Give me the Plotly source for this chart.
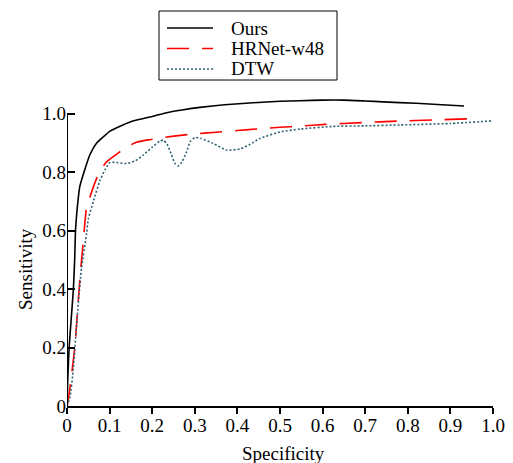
import plotly.graph_objects as go

# ROC-style curves: specificity (x) vs sensitivity (y)
ours_x = [0, 0.002, 0.005, 0.010, 0.015, 0.018, 0.020, 0.023, 0.030, 0.040, 0.054, 0.070,
          0.085, 0.101, 0.13, 0.156, 0.20, 0.234, 0.27, 0.312, 0.37, 0.437, 0.50, 0.547,
          0.60, 0.65, 0.70, 0.742, 0.82, 0.88, 0.932]
ours_y = [0, 0.10, 0.20, 0.30, 0.40, 0.50, 0.60, 0.66, 0.75, 0.80, 0.86, 0.90,
          0.92, 0.94, 0.96, 0.975, 0.99, 1.003, 1.012, 1.021, 1.030, 1.037, 1.042, 1.044,
          1.046, 1.046, 1.043, 1.040, 1.035, 1.030, 1.026]

hrnet_x = [0, 0.003, 0.011, 0.019, 0.025, 0.030, 0.038, 0.046, 0.055, 0.070, 0.085, 0.093,
           0.12, 0.14, 0.163, 0.19, 0.214, 0.246, 0.296, 0.35, 0.40, 0.453, 0.50, 0.547,
           0.606, 0.692, 0.774, 0.86, 0.942, 0.969]
hrnet_y = [0, 0.02, 0.11, 0.21, 0.33, 0.43, 0.56, 0.68, 0.72, 0.78, 0.82, 0.835,
           0.865, 0.885, 0.902, 0.910, 0.915, 0.922, 0.930, 0.936, 0.942, 0.948, 0.953, 0.957,
           0.963, 0.969, 0.974, 0.978, 0.982, 0.983]

dtw_x = [0, 0.007, 0.015, 0.020, 0.027, 0.034, 0.046, 0.05, 0.062, 0.077, 0.09, 0.101,
         0.12, 0.14, 0.16, 0.179, 0.20, 0.218, 0.226, 0.235, 0.245, 0.253, 0.261, 0.270,
         0.281, 0.289, 0.30, 0.315, 0.343, 0.375, 0.406, 0.43, 0.453, 0.50, 0.547, 0.625,
         0.70, 0.782, 0.899, 1.0]
dtw_y = [0, 0.03, 0.13, 0.23, 0.36, 0.47, 0.59, 0.64, 0.70, 0.77, 0.81, 0.833,
         0.832, 0.829, 0.838, 0.858, 0.885, 0.906, 0.909, 0.895, 0.86, 0.83, 0.821, 0.835,
         0.87, 0.904, 0.918, 0.915, 0.898, 0.875, 0.879, 0.895, 0.915, 0.937, 0.947, 0.956,
         0.958, 0.961, 0.966, 0.975]

x_ticks = [0, 0.1, 0.2, 0.3, 0.4, 0.5, 0.6, 0.7, 0.8, 0.9, 1.0]
x_tick_text = ["0", "0.1", "0.2", "0.3", "0.4", "0.5", "0.6", "0.7", "0.8", "0.9", "1.0"]
y_ticks = [0, 0.2, 0.4, 0.6, 0.8, 1.0]
y_tick_text = ["0", "0.2", "0.4", "0.6", "0.8", "1.0"]

series_names = ["Ours", "HRNet-w48", "DTW"]
x_title = "Specificity"
y_title = "Sensitivity"

FONT = "Liberation Serif"
W, H = 513, 463
ML, MR, MT, MB = 67, 20, 96, 57
PW, PH = W - ML - MR, H - MT - MB

styles = [
    dict(color="black", width=1.6),
    dict(color="#ff0000", width=1.6, dash="22px,13px"),
    dict(color="#2e6272", width=1.6, dash="2px,2px"),
]

fig = go.Figure()
for xs, ys, name, st in zip([ours_x, hrnet_x, dtw_x], [ours_y, hrnet_y, dtw_y],
                            series_names, styles):
    fig.add_trace(go.Scatter(x=xs, y=ys, mode="lines", name=name,
                             line=dict(shape="spline", smoothing=0.5, **st)))

# left axis line only spans 0..1.0
fig.add_shape(type="line", xref="x", yref="y", x0=0, x1=0, y0=0, y1=1.0,
              line=dict(color="black", width=2))


def px_x(p):
    return (p - ML) / PW


def px_y(p):
    return (H - MB - p) / PH


# legend box drawn above the plot area (pixel layout converted to paper units)
fig.add_shape(type="rect", xref="paper", yref="paper",
              x0=px_x(159), x1=px_x(337), y0=px_y(80), y1=px_y(11),
              line=dict(color="black", width=1), fillcolor="white")
for i, (name, st) in enumerate(zip(series_names, styles)):
    yy = px_y(28 + i * 20.5)
    fig.add_shape(type="line", xref="paper", yref="paper",
                  x0=px_x(167), x1=px_x(213), y0=yy, y1=yy, line=st)
    fig.add_annotation(xref="paper", yref="paper", x=px_x(229), y=yy,
                       xanchor="left", yanchor="middle", text=name, showarrow=False,
                       font=dict(family=FONT, size=19, color="black"))

# axis titles
fig.add_annotation(xref="paper", yref="paper", x=px_x(283), y=px_y(453),
                   xanchor="center", yanchor="middle", text=x_title, showarrow=False,
                   font=dict(family=FONT, size=19, color="black"))
fig.add_annotation(xref="paper", yref="paper", x=px_x(25), y=px_y(269),
                   xanchor="center", yanchor="middle", text=y_title, showarrow=False,
                   textangle=-90, font=dict(family=FONT, size=19, color="black"))

fig.update_layout(
    width=W, height=H,
    margin=dict(l=ML, r=MR, t=MT, b=MB),
    paper_bgcolor="white", plot_bgcolor="white",
    font=dict(family=FONT, size=19, color="black"),
    showlegend=False,
)
fig.update_xaxes(range=[0, 1.0], tickvals=x_ticks, ticktext=x_tick_text,
                 showgrid=False, zeroline=False, showline=True, linecolor="black", linewidth=2,
                 ticks="outside", ticklen=6, tickwidth=2, tickcolor="black",
                 ticklabelstandoff=-5, automargin=False)
fig.update_yaxes(range=[0, 1.06], tickvals=y_ticks, ticktext=y_tick_text,
                 showgrid=False, zeroline=False, showline=False,
                 ticks="inside", ticklen=8, tickwidth=2, tickcolor="black",
                 automargin=False)

fig.write_html("out.html")
